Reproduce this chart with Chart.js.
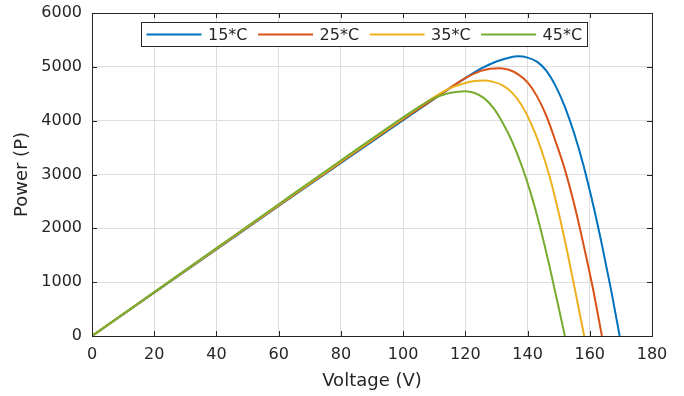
<!DOCTYPE html>
<html>
<head>
<meta charset="utf-8">
<script src="https://cdn.jsdelivr.net/npm/chart.js@4"></script>
<style>
  html, body { margin: 0; padding: 0; background: #fff; }
  #wrap { width: 684px; height: 396px; }
</style>
</head>
<body>
<div id="wrap"><canvas id="pvChart" width="684" height="396"></canvas></div>
<script>
// series labels (legend)
const seriesLabels = ['15*C', '25*C', '35*C', '45*C'];

// voltage (V) / power (P), one pair per temperature
const volt15 = [0, 20, 40, 60, 80, 100, 110, 120, 125, 130, 134, 137, 140, 143, 146, 149, 152, 155, 158, 161, 164, 167, 169.6];
const power15 = [0, 805, 1610, 2415, 3215, 4010, 4405, 4790, 4965, 5100, 5170, 5195, 5171, 5096, 4931, 4646, 4256, 3761, 3161, 2456, 1670, 810, 0];

const volt25 = [0, 20, 40, 60, 80, 100, 110, 120, 125, 128, 131, 134, 137, 140, 143, 146, 149, 152, 155, 158, 161, 163.9];
const power25 = [0, 808, 1616, 2424, 3230, 4030, 4410, 4790, 4925, 4965, 4975, 4945, 4861, 4711, 4456, 4096, 3616, 3091, 2446, 1696, 886, 0];

const volt35 = [0, 20, 40, 60, 80, 100, 110, 115, 120, 123, 126, 129, 132, 135, 138, 141, 144, 147, 150, 153, 156, 158.2];
const power35 = [0, 812, 1624, 2436, 3245, 4045, 4440, 4600, 4700, 4735, 4745, 4721, 4655, 4520, 4295, 3965, 3530, 2980, 2290, 1500, 640, 0];

const volt45 = [0, 20, 40, 60, 80, 100, 106, 110, 114, 117, 120, 123, 126, 129, 132, 135, 138, 141, 144, 147, 150, 152];
const power45 = [0, 816, 1632, 2448, 3260, 4060, 4290, 4420, 4500, 4532, 4545, 4515, 4419, 4239, 3963, 3618, 3183, 2658, 2028, 1308, 528, 0];

// axis ranges
const xMin = 0, xMax = 180, xStep = 20;
const yMin = 0, yMax = 6000, yStep = 1000;

const colors = ['#0072BD', '#D95319', '#EDB120', '#77AC30'];
const axisColor = '#262626';

function toPoints(v, p) {
    return v.map((x, i) => ({ x: x, y: p[i] }));
}

const allVolts = [volt15, volt25, volt35, volt45];
const allPowers = [power15, power25, power35, power45];

const datasets = seriesLabels.map((label, i) => ({
    label: label,
    data: toPoints(allVolts[i], allPowers[i]),
    borderColor: colors[i],
    backgroundColor: colors[i],
    borderWidth: 2,
    pointRadius: 0,
    cubicInterpolationMode: 'monotone',
    fill: false,
    order: 3 - i   // green ends up drawn on top, like the picture
}));

// box around the plot, inward ticks and the legend box (matlab look)
const framePlugin = {
    id: 'frame',
    afterDatasetsDraw(chart) {
        const ctx = chart.ctx;
        const a = chart.chartArea;
        const xs = chart.scales.x, ys = chart.scales.y;
        ctx.save();
        ctx.strokeStyle = axisColor;
        ctx.lineWidth = 1;
        ctx.strokeRect(Math.round(a.left) + 0.5, Math.round(a.top) + 0.5,
            Math.round(a.right - a.left), Math.round(a.bottom - a.top));
        ctx.beginPath();
        xs.ticks.forEach(t => {
            const px = Math.round(xs.getPixelForValue(t.value)) + 0.5;
            ctx.moveTo(px, a.bottom); ctx.lineTo(px, a.bottom - 5);
            ctx.moveTo(px, a.top); ctx.lineTo(px, a.top + 5);
        });
        ys.ticks.forEach(t => {
            const py = Math.round(ys.getPixelForValue(t.value)) + 0.5;
            ctx.moveTo(a.left, py); ctx.lineTo(a.left + 5, py);
            ctx.moveTo(a.right, py); ctx.lineTo(a.right - 5, py);
        });
        ctx.stroke();

        // legend
        ctx.font = '16px "DejaVu Sans"';
        const lineLen = 55, gap = 6.5, spacing = 10.5, pad = 5;
        const widths = chart.data.datasets.map(d => ctx.measureText(d.label).width);
        let total = pad * 2;
        widths.forEach((w, i) => { total += lineLen + gap + w + (i < widths.length - 1 ? spacing : 0); });
        const bx = Math.round(a.left + 49) + 0.5, by = Math.round(a.top + 9) + 0.5, bh = 24;
        ctx.fillStyle = '#fff';
        ctx.fillRect(bx, by, total, bh);
        ctx.strokeStyle = axisColor;
        ctx.strokeRect(bx, by, Math.round(total), bh);
        let cx = bx + pad;
        const cy = by + bh / 2;
        chart.data.datasets.forEach((d, i) => {
            ctx.strokeStyle = d.borderColor;
            ctx.lineWidth = 2;
            ctx.beginPath();
            ctx.moveTo(cx, cy); ctx.lineTo(cx + lineLen, cy);
            ctx.stroke();
            ctx.fillStyle = axisColor;
            ctx.textAlign = 'left';
            ctx.textBaseline = 'middle';
            ctx.fillText(d.label, cx + lineLen + gap, cy + 1);
            cx += lineLen + gap + widths[i] + spacing;
        });
        ctx.restore();
    }
};

Chart.defaults.font.family = '"DejaVu Sans", sans-serif';
Chart.defaults.color = axisColor;

new Chart(document.getElementById('pvChart'), {
    type: 'line',
    data: { datasets: datasets },
    options: {
        responsive: false,
        devicePixelRatio: 1,
        animation: false,
        layout: { padding: { left: 8, right: 32, top: 13, bottom: 0 } },
        plugins: {
            legend: { display: false },
            tooltip: { enabled: false }
        },
        scales: {
            x: {
                type: 'linear',
                min: xMin, max: xMax,
                afterFit: s => { s.height = 60; },
                ticks: {
                    stepSize: xStep,
                    padding: 9,
                    maxRotation: 0,
                    font: { size: 16 },
                    callback: v => String(v)
                },
                grid: { color: '#dedede', drawTicks: false },
                border: { display: false },
                title: { display: true, text: 'Voltage (V)', font: { size: 18 } }
            },
            y: {
                min: yMin, max: yMax,
                afterFit: s => { s.width = 84; s.paddingTop = 0; s.paddingBottom = 0; },
                ticks: {
                    stepSize: yStep,
                    padding: 10,
                    font: { size: 16 },
                    callback: v => String(v)
                },
                grid: { color: '#dedede', drawTicks: false },
                border: { display: false },
                title: { display: true, text: 'Power (P)', font: { size: 18 } }
            }
        }
    },
    plugins: [framePlugin]
});
</script>
</body>
</html>
